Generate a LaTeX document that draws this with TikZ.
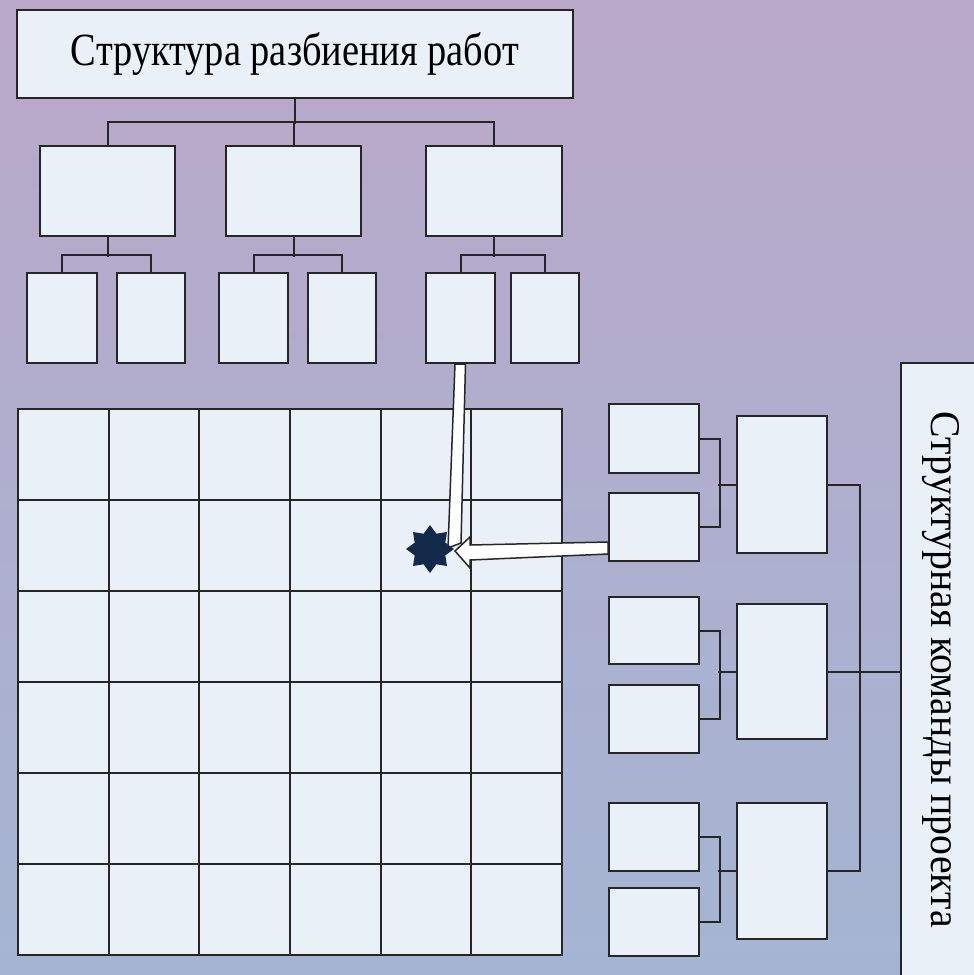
\documentclass[tikz,border=0pt]{standalone}
\usepackage{fontspec}
\setmainfont{Liberation Serif}
\usetikzlibrary{shapes.geometric,calc}
\definecolor{bgtop}{HTML}{BAA8C9}
\definecolor{bgmid}{HTML}{B2AFCB}
\definecolor{bgbot}{HTML}{A4B5D3}
\definecolor{boxfill}{HTML}{EAF0F8}
\definecolor{starblue}{HTML}{12294A}
\begin{document}
\begin{tikzpicture}[x=1pt,y=-1pt,
  box/.style={draw=black!85,line width=2pt,fill=boxfill,rectangle,inner sep=0pt,anchor=north west},
  conn/.style={draw=black!85,line width=2pt},
  hollow/.style={draw=black!85,line width=1.5pt,fill=white,line join=miter}]
\useasboundingbox (0,0) rectangle (974,975);
\shade[top color=bgtop,middle color=bgmid,bottom color=bgbot] (0,0) rectangle (974,975);

% WBS
\node[box,minimum width=556pt,minimum height=88pt] (wbs) at (16,9) {\resizebox{448pt}{33pt}{Структура разбиения работ}};
\node[box,minimum width=135pt,minimum height=90pt] (a1) at (39,145) {};
\node[box,minimum width=135pt,minimum height=90pt] (a2) at (225,145) {};
\node[box,minimum width=136pt,minimum height=90pt] (a3) at (425,145) {};
\node[box,minimum width=70pt,minimum height=90pt] (b1) at (26,272) {};
\node[box,minimum width=68pt,minimum height=90pt] (b2) at (116,272) {};
\node[box,minimum width=69pt,minimum height=90pt] (b3) at (218,272) {};
\node[box,minimum width=68pt,minimum height=90pt] (b4) at (307,272) {};
\node[box,minimum width=69pt,minimum height=90pt] (b5) at (425,272) {};
\node[box,minimum width=68pt,minimum height=90pt] (b6) at (510,272) {};

\draw[conn] (wbs.south) -- ($(wbs.south)+(0,25)$);
\draw[conn] (a1.north) -- ++(0,-23) -| (a3.north);
\draw[conn] (a2.north) -- ++(0,-23);
\foreach \p/\l/\r in {a1/b1/b2,a2/b3/b4,a3/b5/b6}{
  \draw[conn] (\p.south) -- ++(0,20);
  \draw[conn] (\l.north) -- ++(0,-17) -| (\r.north);
}

% matrix
\foreach \i in {0,...,5}
  \foreach \j in {0,...,5}
    \node[box,minimum width=90.67pt,minimum height=91pt] (g\i\j) at ({17+90.67*\i},{408+91*\j}) {};

% team structure
\node[box,minimum width=90pt,minimum height=69pt] (s1) at (608,403) {};
\node[box,minimum width=90pt,minimum height=68pt] (s2) at (608,492) {};
\node[box,minimum width=90pt,minimum height=67pt] (s3) at (608,596) {};
\node[box,minimum width=90pt,minimum height=68pt] (s4) at (608,684) {};
\node[box,minimum width=90pt,minimum height=68pt] (s5) at (608,802) {};
\node[box,minimum width=90pt,minimum height=68pt] (s6) at (608,887) {};
\node[box,minimum width=90pt,minimum height=137pt] (m1) at (736,415) {};
\node[box,minimum width=90pt,minimum height=135pt] (m2) at (736,603) {};
\node[box,minimum width=90pt,minimum height=136pt] (m3) at (736,802) {};
\node[box,minimum width=100pt,minimum height=640pt] (team) at (900,362) {};
\node[rotate=-90] (teamlabel) at (941,670) {\resizebox{516pt}{28pt}{Структурная команды проекта}};

\foreach \u/\d/\m in {s1/s2/m1,s3/s4/m2,s5/s6/m3}{
  \draw[conn] (\u.east) -- ++(20,0) |- (\d.east);
  \draw[conn] (\m.west) -- ++(-18,0);
}
\draw[conn] (m1.east) -- ++(32,0) |- (m3.east);
\draw[conn] (m2.east) -- (m2.east -| team.west);

% hollow arrows
\coordinate (tip) at (455,551);
\draw[hollow] ($(b5.south)+(-5.5,0)$) -- ($(b5.south)+(5,0)$) -- ($(tip)+(6,-8)$) -- ($(tip)+(-7,-3)$) -- cycle;
\draw[hollow] ($(s2.south west)+(0,-20)$) -- ($(tip)+(15,-6)$) -- ($(tip)+(15,-14)$) -- (tip)
  -- ($(tip)+(15,17)$) -- ($(tip)+(15,9)$) -- ($(s2.south west)+(0,-8)$) -- cycle;
\node[star,star points=8,star point ratio=1.45,minimum size=48pt,inner sep=0pt,fill=starblue] (star) at (430,549) {};
\end{tikzpicture}
\end{document}
